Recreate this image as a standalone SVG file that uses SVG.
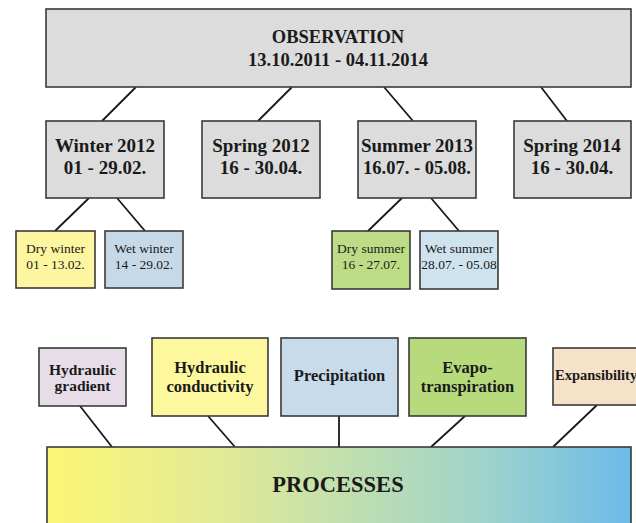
<svg xmlns="http://www.w3.org/2000/svg" width="636" height="523" viewBox="0 0 636 523">
<defs>
<style>
.box{stroke:#3a3a3a;stroke-width:1.6}
.gray{fill:#dcdcdc}
.bt{font-family:"Liberation Serif",serif;font-weight:bold;fill:#1a1a1a;text-anchor:middle}
.rt{font-family:"Liberation Serif",serif;fill:#1a1a1a;text-anchor:middle;font-size:13.5px}
.ln{stroke:#1a1a1a;stroke-width:1.8;fill:none}
</style>
<linearGradient id="pg" x1="0" y1="0" x2="1" y2="0">
<stop offset="0" stop-color="#fdf675"/>
<stop offset="0.3" stop-color="#e1ea96"/>
<stop offset="0.5" stop-color="#c3e0ad"/>
<stop offset="0.75" stop-color="#9fd3cb"/>
<stop offset="1" stop-color="#6bbbe9"/>
</linearGradient>
</defs>
<rect width="636" height="523" fill="#ffffff"/>
<g id="connectors">
<path class="ln" d="M136 87L102 121M292 87L258 121M384 87L413 121M541 87L567 121"/>
<path class="ln" d="M89 198L55 231M117 198L145 231"/>
<path class="ln" d="M402 198L368 231M431 198L459 231"/>
<path class="ln" d="M80 406L112 447M208 416L235 447M339 416L339 447M465 416L431 447M597 405L553 447"/>
</g>
<g id="observation">
<rect class="box gray" x="46" y="9" width="585" height="78"/>
<text class="bt" x="338" y="43" font-size="18.5">OBSERVATION</text>
<text class="bt" x="338" y="66" font-size="18.5">13.10.2011 - 04.11.2014</text>
</g>
<g id="winter2012">
<rect class="box gray" x="46" y="121" width="118" height="77"/>
<text class="bt" x="105" y="152" font-size="19">Winter 2012</text>
<text class="bt" x="105" y="174" font-size="19">01 - 29.02.</text>
</g>
<g id="spring2012">
<rect class="box gray" x="202" y="121" width="118" height="77"/>
<text class="bt" x="261" y="152" font-size="19">Spring 2012</text>
<text class="bt" x="261" y="174" font-size="19">16 - 30.04.</text>
</g>
<g id="summer2013">
<rect class="box gray" x="358" y="121" width="118" height="77"/>
<text class="bt" x="417" y="152" font-size="19">Summer 2013</text>
<text class="bt" x="417" y="174" font-size="18.5">16.07. - 05.08.</text>
</g>
<g id="spring2014">
<rect class="box gray" x="514" y="121" width="117" height="77"/>
<text class="bt" x="572" y="152" font-size="19">Spring 2014</text>
<text class="bt" x="572" y="174" font-size="19">16 - 30.04.</text>
</g>
<g id="drywinter">
<rect class="box" fill="#fdf5a0" x="16" y="231" width="79" height="57"/>
<text class="rt" x="55.5" y="253">Dry winter</text>
<text class="rt" x="55.5" y="269">01 - 13.02.</text>
</g>
<g id="wetwinter">
<rect class="box" fill="#c6d9e8" x="105" y="231" width="78" height="57"/>
<text class="rt" x="144" y="253">Wet winter</text>
<text class="rt" x="144" y="269">14 - 29.02.</text>
</g>
<g id="drysummer">
<rect class="box" fill="#bcdc86" x="332" y="231" width="78" height="58"/>
<text class="rt" x="371" y="253">Dry summer</text>
<text class="rt" x="371" y="269">16 - 27.07.</text>
</g>
<g id="wetsummer">
<rect class="box" fill="#cfe3ee" x="420" y="231" width="78" height="58"/>
<text class="rt" x="459" y="253">Wet summer</text>
<text class="rt" x="459" y="269">28.07. - 05.08</text>
</g>
<g id="hydraulicgradient">
<rect class="box" fill="#e7dde8" x="39" y="348" width="87" height="58"/>
<text class="bt" x="82.5" y="375" font-size="15.5">Hydraulic</text>
<text class="bt" x="82.5" y="391" font-size="15.5">gradient</text>
</g>
<g id="hydraulicconductivity">
<rect class="box" fill="#fdf79e" x="152" y="338" width="116" height="78"/>
<text class="bt" x="210" y="373" font-size="16.5">Hydraulic</text>
<text class="bt" x="210" y="392" font-size="16.5">conductivity</text>
</g>
<g id="precipitation">
<rect class="box" fill="#c7dbea" x="281" y="338" width="117" height="78"/>
<text class="bt" x="339.5" y="381" font-size="16.5">Precipitation</text>
</g>
<g id="evapotranspiration">
<rect class="box" fill="#b6da7c" x="409" y="338" width="117" height="78"/>
<text class="bt" x="467.5" y="373" font-size="16.5">Evapo-</text>
<text class="bt" x="467.5" y="392" font-size="16.5">transpiration</text>
</g>
<g id="expansibility">
<rect class="box" fill="#f5e2c9" x="553" y="348" width="90" height="57"/>
<text class="bt" x="555" y="380" font-size="14.5" style="text-anchor:start">Expansibility</text>
</g>
<g id="processes">
<rect class="box" fill="url(#pg)" x="47" y="447" width="584" height="80"/>
<text class="bt" x="338" y="492" font-size="22.5">PROCESSES</text>
</g>
</svg>
